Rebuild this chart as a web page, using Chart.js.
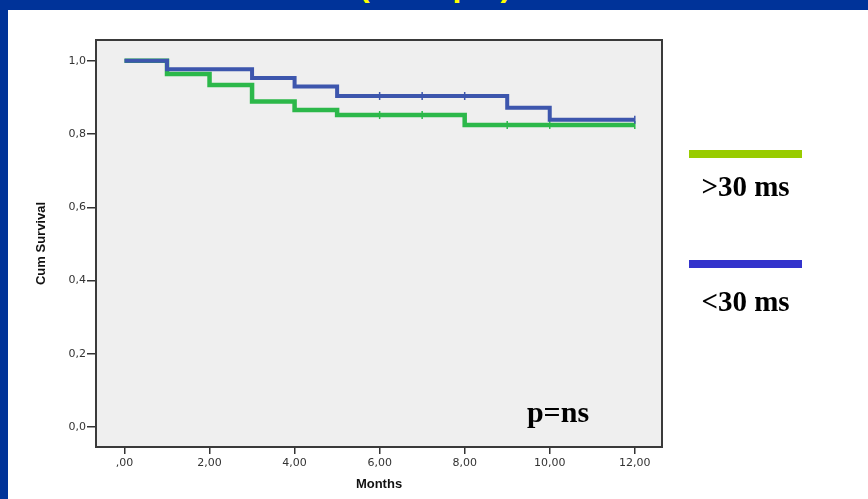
<!DOCTYPE html>
<html>
<head>
<meta charset="utf-8">
<script src="https://cdn.jsdelivr.net/npm/chart.js@4.4.1/dist/chart.umd.min.js"></script>
<style>
html,body{margin:0;padding:0;}
body{width:868px;height:499px;background:#003399;position:relative;overflow:hidden;}
#hoja{position:absolute;left:8px;top:10px;width:860px;height:489px;background:#fff;}
#titulo_corte{position:absolute;left:0;top:0;width:868px;height:10px;overflow:hidden;}
#titulo_corte span{position:absolute;left:359px;top:-31px;font:bold 32px/32px "Liberation Sans",Arial,sans-serif;color:#ffff00;white-space:nowrap;}
#canva{position:absolute;left:0;top:0;}
.barra{position:absolute;left:689px;width:113px;height:8px;}
.etiqueta{position:absolute;left:669px;width:153px;text-align:center;font:bold 29px/34px "Liberation Serif","Times New Roman",serif;color:#000;}
#p_valor{position:absolute;left:500px;width:116px;top:395px;text-align:center;font:bold 30px/34px "Liberation Serif","Times New Roman",serif;color:#000;}
</style>
</head>
<body>
<div id="hoja"></div>
<div id="titulo_corte"><span>(n=43 pts)</span></div>
<canvas id="canva" width="868" height="499"></canvas>
<div class="barra" style="top:150px;background:#99cc00;"></div>
<div class="etiqueta" style="top:169px;">&gt;30 ms</div>
<div class="barra" style="top:260px;background:#3333cc;"></div>
<div class="etiqueta" style="top:284px;">&lt;30 ms</div>
<div id="p_valor">p=ns</div>
<script>
// ticks de los ejes
let meses_ticks = [0,2,4,6,8,10,12];
let etiquetas_x = [',00','2,00','4,00','6,00','8,00','10,00','12,00'];
let valores_y = [0,0.2,0.4,0.6,0.8,1.0];
let etiquetas_y = ['0,0','0,2','0,4','0,6','0,8','1,0'];

// <30 ms (azul)
let tiempo_menor = [0,1,3,4,5,9,10,12];
let superv_menor = [1.0,0.977,0.953,0.930,0.904,0.872,0.839,0.839];
let censura_menor_t = [6,7,8,12];
let censura_menor_s = [0.904,0.904,0.904,0.839];

// >30 ms (verde)
let tiempo_mayor = [0,1,2,3,4,5,8,12];
let superv_mayor = [1.0,0.964,0.934,0.889,0.866,0.852,0.825,0.825];
let censura_mayor_t = [6,7,9,10,12];
let censura_mayor_s = [0.852,0.852,0.825,0.825,0.825];

const color_azul = '#3d56ad';
const color_verde = '#2cb84a';
const fuente_ticks = {family:'"DejaVu Sans", Arial',size:11};

function puntos(tiempos,valores){
	return tiempos.map((t,i)=>({x:t,y:valores[i]}));
}

// fondo gris y marco del area de la grafica
const marco = {
	id:'marco',
	beforeDraw(chart){
		let {ctx,chartArea:a} = chart;
		ctx.save();
		ctx.fillStyle = '#efefef';
		ctx.fillRect(a.left,a.top,a.right-a.left,a.bottom-a.top);
		ctx.restore();
	},
	afterDraw(chart){
		let {ctx,chartArea:a} = chart;
		ctx.save();
		ctx.strokeStyle = '#3a3a3a';
		ctx.lineWidth = 2;
		ctx.strokeRect(a.left,a.top,a.right-a.left,a.bottom-a.top);
		ctx.restore();
	}
};

const ctx = document.getElementById('canva').getContext('2d');
const grafica = new Chart(ctx,{
	type:'line',
	data:{
		datasets:[{
			label:'<30 ms',
			data:puntos(tiempo_menor,superv_menor),
			borderColor:color_azul,
			borderWidth:4,
			stepped:true,
			pointRadius:0,
			fill:false,
			order:1
		},{
			type:'scatter',
			data:puntos(censura_menor_t,censura_menor_s),
			borderColor:color_azul,
			backgroundColor:color_azul,
			pointStyle:'line',
			rotation:90,
			pointRadius:4,
			borderWidth:1.5,
			order:0
		},{
			label:'>30 ms',
			data:puntos(tiempo_mayor,superv_mayor),
			borderColor:color_verde,
			borderWidth:4.5,
			stepped:true,
			pointRadius:0,
			fill:false,
			order:3
		},{
			type:'scatter',
			data:puntos(censura_mayor_t,censura_mayor_s),
			borderColor:color_verde,
			backgroundColor:color_verde,
			pointStyle:'line',
			rotation:90,
			pointRadius:4,
			borderWidth:1.5,
			order:2
		}]
	},
	options:{
		responsive:false,
		animation:false,
		layout:{padding:{left:0,right:206,top:40,bottom:0}},
		plugins:{legend:{display:false},tooltip:{enabled:false}},
		scales:{
			x:{
				type:'linear',
				min:-0.67,
				max:12.64,
				afterBuildTicks:s=>{ s.ticks = meses_ticks.map(v=>({value:v})); },
				afterFit:s=>{ s.height = 52; },
				ticks:{
					callback:(v,i)=>etiquetas_x[i],
					font:fuente_ticks,
					color:'#333',
					padding:3,
					maxRotation:0,
					autoSkip:false
				},
				grid:{drawOnChartArea:false,tickLength:7,color:'#333',lineWidth:1.5},
				border:{display:true,color:'#3a3a3a',width:2},
				title:{display:true,text:'Months',font:{family:'Arial',size:13,weight:'bold'},color:'#111',padding:{top:0,bottom:7}}
			},
			y:{
				type:'linear',
				min:-0.055,
				max:1.057,
				afterBuildTicks:s=>{ s.ticks = valores_y.map(v=>({value:v})); },
				afterFit:s=>{ s.width = 96; },
				ticks:{
					callback:(v,i)=>etiquetas_y[i],
					font:fuente_ticks,
					color:'#333',
					padding:1,
					autoSkip:false
				},
				grid:{drawOnChartArea:false,tickLength:9,color:'#333',lineWidth:1.5},
				border:{display:true,color:'#3a3a3a',width:2},
				title:{display:true,text:'Cum Survival',font:{family:'"Liberation Sans Narrow", Arial',size:13,weight:'bold'},color:'#111',padding:{top:34,bottom:0}}
			}
		}
	},
	plugins:[marco]
});
</script>
</body>
</html>
